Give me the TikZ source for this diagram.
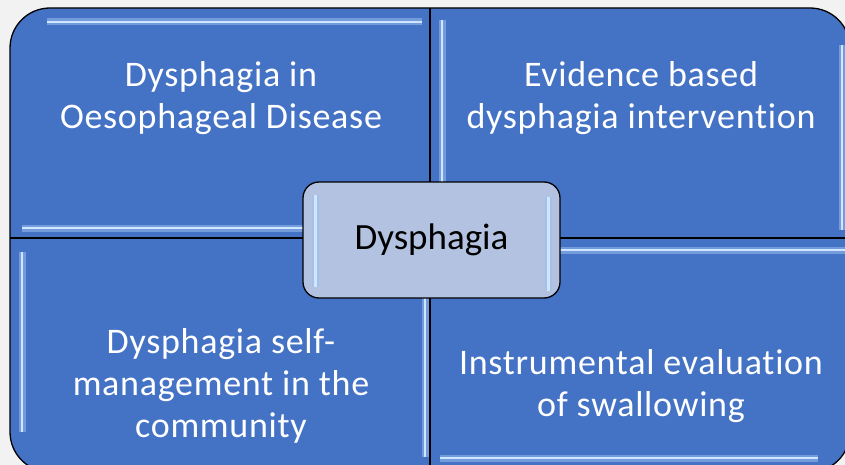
\documentclass[tikz,border=0pt]{standalone}
\usepackage{fontspec}
\setmainfont[Ligatures=NoCommon]{Carlito}
\definecolor{bg}{HTML}{F2F2F2}
\definecolor{qblue}{HTML}{4472C4}
\definecolor{cbox}{HTML}{B4C2E2}
\definecolor{hlcol}{HTML}{CFE6FF}
\definecolor{glowcol}{HTML}{9CC0F0}
\tikzset{
  hlglow/.style={line width=7pt, glowcol, opacity=0.55, line cap=butt},
  hlcore/.style={line width=2.6pt, hlcol, line cap=butt},
  qtext/.style={text=white, align=center, font=\fontsize{36}{42}\selectfont\addfontfeature{LetterSpace=2}},
  centerbox/.style={draw=black, line width=1.3pt, fill=cbox, rounded corners=16pt, minimum width=257pt, minimum height=116pt},
}
\newcommand{\hl}[2]{\draw[hlglow] #1 -- #2; \draw[hlcore] #1 -- #2;}
\begin{document}
\begin{tikzpicture}[x=1pt,y=-1pt]
\path[use as bounding box, fill=bg] (0,0) rectangle (845,465);
\begin{scope}
\clip (0,0) rectangle (845,465);
\fill[qblue, rounded corners=40pt] (10,8) rectangle (850,472);
% highlights
\hl{(47,22)}{(422,22)}
\hl{(22,228)}{(425,228)}
\hl{(442,20)}{(442,228)}
\hl{(842,45)}{(842,230)}
\hl{(22,252)}{(22,432)}
\hl{(425,250)}{(425,457)}
\hl{(440,250)}{(845,250)}
\hl{(440,458)}{(818,458)}
% outline and dividers
\draw[black, line width=1.3pt, rounded corners=40pt] (10,8) rectangle (850,472);
\draw[black, line width=1.3pt] (10,238) -- (850,238);
\draw[black, line width=1.3pt] (430,8) -- (430,472);
\end{scope}
\node[qtext] (tl) at (221,98) {Dysphagia in\\Oesophageal Disease};
\node[qtext] (tr) at (641,98) {Evidence based\\dysphagia intervention};
\node[qtext] (bl) at (221,386) {Dysphagia self-\\management in the\\community};
\node[qtext] (br) at (641,386) {Instrumental evaluation\\of swallowing};
\node[centerbox] (c) at (431.5,240) {};
\draw[hlglow] ([xshift=13pt,yshift=-14pt]c.north west) -- ([xshift=13pt,yshift=12pt]c.south west);
\draw[hlcore] ([xshift=13pt,yshift=-14pt]c.north west) -- ([xshift=13pt,yshift=12pt]c.south west);
\draw[hlglow] ([xshift=-12pt,yshift=-16pt]c.north east) -- ([xshift=-12pt,yshift=8pt]c.south east);
\draw[hlcore] ([xshift=-12pt,yshift=-16pt]c.north east) -- ([xshift=-12pt,yshift=8pt]c.south east);
\node[font=\fontsize{37}{42}\selectfont, text=black] (ct) at (c) {Dysphagia};
\end{tikzpicture}
\end{document}
